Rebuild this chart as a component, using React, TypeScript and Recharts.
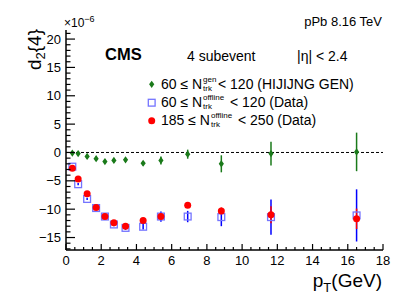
import React from 'react';
import {
  ComposedChart,
  Scatter,
  XAxis,
  YAxis,
  ErrorBar,
  ReferenceLine,
} from 'recharts';

// pT bin centres (GeV)
const PT = [0.36, 0.69, 1.2, 1.71, 2.21, 2.72, 3.38, 4.38, 5.39, 6.91, 8.82, 11.64, 16.5];

// d2{4} values in units of 1e-6
const HIJING_VALS = [-0.1, -0.2, -0.7, -1.1, -1.6, -1.4, -1.3, -1.9, -1.4, -0.3, -2.0, -0.2, 0.1];
const HIJING_ERR = [0.25, 0.3, 0.35, 0.35, 0.35, 0.35, 0.35, 0.4, 0.7, 0.8, 1.5, 2.1, 3.4];

const LOW_VALS = [-2.5, -5.6, -8.2, -9.8, -11.3, -12.7, -13.3, -13.1, -11.3, -11.3, -11.4, -11.4, -11.1];
const LOW_ERR = [0.2, 0.2, 0.2, 0.2, 0.3, 0.3, 0.35, 0.5, 0.9, 1.0, 1.6, 3.1, 4.6];

const HIGH_VALS = [-2.8, -4.7, -7.3, -9.7, -11.3, -12.4, -13.0, -12.0, -11.3, -9.3, -10.3, -11.0, -11.7];
const HIGH_ERR = [0.15, 0.15, 0.15, 0.15, 0.2, 0.2, 0.25, 0.3, 0.5, 0.5, 0.6, 1.5, 1.8];

// axis ticks
const X_MAJOR = [0, 2, 4, 6, 8, 10, 12, 14, 16, 18];
const Y_MAJOR = [-15, -10, -5, 0, 5, 10, 15, 20];
const X_TICKS = Array.from({ length: 37 }, (_, i) => i * 0.5);
const Y_TICKS = Array.from({ length: 39 }, (_, i) => i - 17);

const X_DOMAIN: [number, number] = [0, 18];
const Y_DOMAIN: [number, number] = [-17.2, 21.6];

const FONT = '"Liberation Sans", Arial, Helvetica, sans-serif';
const GREEN = '#1a7a1a';
const BLUE = '#0000ff';
const BLUE_MARK = '#7474ff';
const RED = '#ff0000';

const toRows = (vals: number[], errs: number[]) =>
  PT.map((x, i) => ({ x, y: vals[i], err: errs[i] }));

const hijingData = toRows(HIJING_VALS, HIJING_ERR);
const lowData = toRows(LOW_VALS, LOW_ERR);
const highData = toRows(HIGH_VALS, HIGH_ERR);

// ──────────────────────────────────────────────────────────
// Markers
// ──────────────────────────────────────────────────────────

function Diamond({ cx, cy }: any) {
  if (cx == null || cy == null) return null;
  return (
    <polygon
      points={`${cx},${cy - 3.6} ${cx + 2.6},${cy} ${cx},${cy + 3.6} ${cx - 2.6},${cy}`}
      fill={GREEN}
    />
  );
}

function OpenSquare({ cx, cy }: any) {
  if (cx == null || cy == null) return null;
  return (
    <rect x={cx - 3.4} y={cy - 3.4} width={6.8} height={6.8} fill="none" stroke={BLUE_MARK} strokeWidth={1.3} />
  );
}

function Dot({ cx, cy }: any) {
  if (cx == null || cy == null) return null;
  return <circle cx={cx} cy={cy} r={3.5} fill={RED} />;
}

// ──────────────────────────────────────────────────────────
// Inward ROOT-style ticks
// ──────────────────────────────────────────────────────────

function BottomTick({ x, y, payload }: any) {
  const v = payload.value;
  const major = X_MAJOR.includes(v);
  return (
    <g>
      <line x1={x} x2={x} y1={y} y2={y - (major ? 6 : 3)} stroke="#000" strokeWidth={1.2} />
      {major && (
        <text x={x} y={y + 15} textAnchor="middle" fontSize={13} fontFamily={FONT} fill="#000">
          {v}
        </text>
      )}
    </g>
  );
}

function TopTick({ x, y, payload }: any) {
  const major = X_MAJOR.includes(payload.value);
  return <line x1={x} x2={x} y1={y} y2={y + (major ? 6 : 3)} stroke="#000" strokeWidth={1.2} />;
}

function LeftTick({ x, y, payload }: any) {
  const v = payload.value;
  const major = Y_MAJOR.includes(v);
  return (
    <g>
      <line x1={x} x2={x + (major ? 9 : 4.5)} y1={y} y2={y} stroke="#000" strokeWidth={1.2} />
      {major && (
        <text x={x - 5} y={y + 4.5} textAnchor="end" fontSize={13} fontFamily={FONT} fill="#000">
          {v < 0 ? `\u2212${-v}` : v}
        </text>
      )}
    </g>
  );
}

function RightTick({ x, y, payload }: any) {
  const major = Y_MAJOR.includes(payload.value);
  return <line x1={x} x2={x - (major ? 9 : 4.5)} y1={y} y2={y} stroke="#000" strokeWidth={1.2} />;
}

// ──────────────────────────────────────────────────────────
// Text overlay (titles, labels, legend)
// ──────────────────────────────────────────────────────────

function LegendLabel({ y, lead, leadW, sup, rest, restX }: any) {
  const t = { fontFamily: FONT, fill: '#000' };
  return (
    <g>
      <text x={161} y={y} fontSize={14} {...t}>{lead}</text>
      <text x={161 + leadW} y={y - 7.5} fontSize={8} {...t}>{sup}</text>
      <text x={161 + leadW} y={y + 1.5} fontSize={8} {...t}>trk</text>
      <text x={restX} y={y} fontSize={14} {...t}>{rest}</text>
    </g>
  );
}

function Overlay() {
  const t = { fontFamily: FONT, fill: '#000' };
  return (
    <svg
      width={407}
      height={301}
      style={{ position: 'absolute', left: 0, top: 0, pointerEvents: 'none' }}
    >
      {/* y title */}
      <text transform="translate(41,29) rotate(-90)" textAnchor="end" fontSize={19} {...t}>
        d<tspan dy={4} fontSize={13}>2</tspan>
        <tspan dy={-4}>{'{4}'}</tspan>
      </text>
      {/* exponent */}
      <text x={64} y={27} fontSize={12} {...t}>
        ×10<tspan dy={-5} fontSize={9}>−6</tspan>
      </text>
      <text x={382} y={26} textAnchor="end" fontSize={13} {...t}>
        pPb 8.16 TeV
      </text>
      {/* x title */}
      <text x={382} y={287} textAnchor="end" fontSize={19} {...t}>
        p<tspan dy={5} fontSize={13}>T</tspan>
        <tspan dy={-5}>(GeV)</tspan>
      </text>

      <text x={105} y={60} fontSize={16.5} fontWeight="bold" {...t}>
        CMS
      </text>
      <text x={187} y={61} fontSize={14} {...t}>
        4 subevent
      </text>
      <text x={297} y={61} fontSize={14} {...t}>
        |η| &lt; 2.4
      </text>

      {/* legend */}
      <polygon points="151.7,80.7 154.3,84.3 151.7,87.9 149.1,84.3" fill={GREEN} />
      <LegendLabel y={89} lead="60 ≤ N" leadW={42} sup="gen" rest="< 120 (HIJIJNG GEN)" restX={218} />

      <rect x={148.3} y={99.3} width={6.8} height={6.8} fill="none" stroke={BLUE_MARK} strokeWidth={1.3} />
      <LegendLabel y={107} lead="60 ≤ N" leadW={42} sup="offline" rest="< 120 (Data)" restX={230} />

      <circle cx={151.7} cy={120.7} r={3.5} fill={RED} />
      <LegendLabel y={125} lead="185 ≤ N" leadW={50} sup="offline" rest="< 250 (Data)" restX={238} />
    </svg>
  );
}

export default function App() {
  return (
    <div style={{ position: 'absolute', left: 0, top: 0, width: 407, height: 301, background: '#fff' }}>
      <ComposedChart width={407} height={301} margin={{ top: 30, right: 24, bottom: 0, left: 0 }}>
        <XAxis
          dataKey="x"
          type="number"
          domain={X_DOMAIN}
          ticks={X_TICKS}
          interval={0}
          allowDataOverflow
          height={51}
          tickSize={0}
          tickMargin={0}
          tick={<BottomTick />}
          axisLine={{ stroke: '#000', strokeWidth: 1.5 }}
        />
        <XAxis
          xAxisId="top"
          orientation="top"
          type="number"
          domain={X_DOMAIN}
          ticks={X_TICKS}
          interval={0}
          allowDataOverflow
          height={0}
          tickSize={0}
          tickMargin={0}
          tick={<TopTick />}
          axisLine={{ stroke: '#000', strokeWidth: 1.5 }}
        />
        <YAxis
          dataKey="y"
          type="number"
          domain={Y_DOMAIN}
          ticks={Y_TICKS}
          interval={0}
          allowDataOverflow
          width={66}
          tickSize={0}
          tickMargin={0}
          tick={<LeftTick />}
          axisLine={{ stroke: '#000', strokeWidth: 1.5 }}
        />
        <YAxis
          yAxisId="right"
          orientation="right"
          type="number"
          domain={Y_DOMAIN}
          ticks={Y_TICKS}
          interval={0}
          allowDataOverflow
          width={0}
          tickSize={0}
          tickMargin={0}
          tick={<RightTick />}
          axisLine={{ stroke: '#000', strokeWidth: 1.5 }}
        />
        <ReferenceLine y={0} stroke="#000" strokeWidth={1} strokeDasharray="3 2" />

        <Scatter data={hijingData} shape={<Diamond />} isAnimationActive={false}>
          <ErrorBar dataKey="err" direction="y" width={0} stroke={GREEN} strokeWidth={1.5} />
        </Scatter>
        <Scatter data={lowData} shape={<OpenSquare />} isAnimationActive={false}>
          <ErrorBar dataKey="err" direction="y" width={0} stroke={BLUE} strokeWidth={1.5} />
        </Scatter>
        <Scatter data={highData} shape={<Dot />} isAnimationActive={false}>
          <ErrorBar dataKey="err" direction="y" width={0} stroke={RED} strokeWidth={1.5} />
        </Scatter>
      </ComposedChart>
      <Overlay />
    </div>
  );
}
